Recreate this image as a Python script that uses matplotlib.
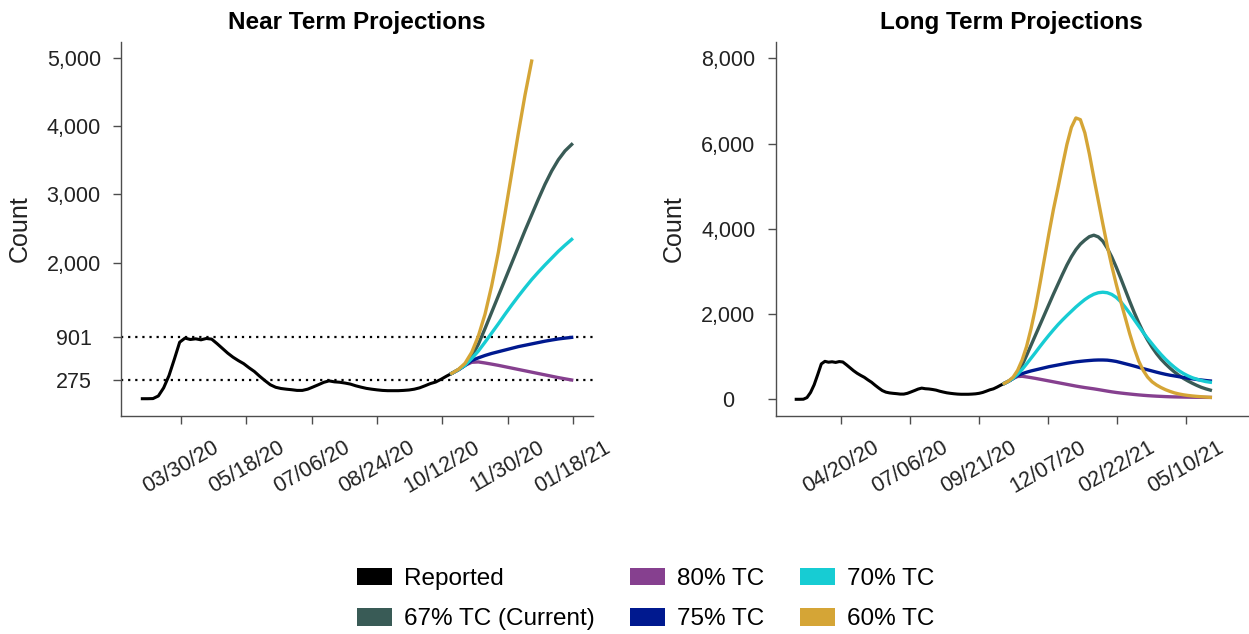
import numpy as np
import pandas as pd
import matplotlib
matplotlib.use("Agg")
import matplotlib.pyplot as plt
import matplotlib.dates as mdates
from matplotlib.patches import Patch

plt.rcParams['font.family'] = ['Liberation Sans', 'DejaVu Sans']

# reported counts, one value every 4 days from 03/01/20
reported_start = "2020-03-01"
reported = [0, 0, 2, 40, 160, 340, 580, 830, 890, 870, 880, 865, 885, 875,
            810, 740, 670, 610, 560, 515, 455, 400, 330, 265, 205, 168, 150,
            140, 132, 122, 122, 140, 172, 205, 240, 262, 248, 242, 230, 215,
            190, 170, 152, 140, 130, 122, 118, 118, 118, 122, 128, 140, 160,
            190, 222, 245, 285, 330, 372]

# projected counts, one value every 5 days from 10/19/20
proj_start = "2020-10-19"
tc80 = [372, 425, 490, 535, 540, 525, 508, 490, 470, 450,
        430, 410, 390, 370, 350, 330, 310, 292, 275, 260,
        245, 228, 210, 192, 175, 160, 147, 135, 124, 113,
        103, 94, 86, 79, 73, 68, 63, 59, 56, 54,
        52, 50, 48, 47, 46, 45, 44]
tc75 = [372, 425, 490, 560, 600, 635, 665, 690, 715, 740,
        765, 785, 805, 825, 845, 862, 878, 890, 901, 910,
        918, 922, 922, 918, 905, 888, 862, 835, 808, 780,
        750, 720, 692, 664, 636, 610, 586, 565, 548, 530,
        512, 495, 480, 465, 452, 440, 430]
tc70 = [372, 425, 490, 590, 700, 830, 965, 1100, 1240, 1375,
        1505, 1630, 1750, 1860, 1965, 2065, 2165, 2255, 2340, 2410,
        2465, 2500, 2512, 2500, 2460, 2390, 2290, 2160, 2020, 1870,
        1720, 1570, 1430, 1300, 1170, 1050, 940, 840, 750, 670,
        605, 550, 505, 470, 440, 415, 400]
tc67 = [372, 425, 490, 620, 800, 1030, 1270, 1510, 1750, 1990,
        2230, 2470, 2700, 2930, 3150, 3345, 3510, 3640, 3735, 3815,
        3850, 3810, 3710, 3545, 3340, 3100, 2840, 2570, 2300, 2040,
        1800, 1580, 1390, 1220, 1070, 940, 830, 730, 640, 560,
        490, 430, 375, 325, 280, 245, 215]
tc60 = [372, 430, 520, 680, 920, 1240, 1660, 2150, 2720, 3310,
        3900, 4460, 4960, 5480, 5980, 6380, 6600, 6560, 6250, 5760,
        5200, 4660, 4120, 3600, 3130, 2700, 2300, 1920, 1540, 1200,
        900, 680, 520, 410, 335, 275, 225, 185, 150, 125,
        105, 90, 78, 68, 60, 52, 45]

series = [("67% TC (Current)", tc67, "#395b56"),
          ("80% TC", tc80, "#86408f"),
          ("75% TC", tc75, "#00198f"),
          ("70% TC", tc70, "#17ccd3"),
          ("60% TC", tc60, "#d5a536")]

near_ticks = ["2020-03-30", "2020-05-18", "2020-07-06", "2020-08-24",
              "2020-10-12", "2020-11-30", "2021-01-18"]
long_ticks = ["2020-04-20", "2020-07-06", "2020-09-21", "2020-12-07",
              "2021-02-22", "2021-05-10"]
near_yticks = [275, 901, 2000, 3000, 4000, 5000]
long_yticks = [0, 2000, 4000, 6000, 8000]
ref_lines = [275, 901]

rep_dates = pd.date_range(reported_start, periods=len(reported), freq="4D")
proj_dates = pd.date_range(proj_start, periods=len(tc80), freq="5D")
near_end = pd.Timestamp("2021-01-18")

W, H = 1249, 634
fig = plt.figure(figsize=(W / 100, H / 100), dpi=100)
ax1 = fig.add_axes([121 / W, 1 - 416 / H, 472 / W, 374 / H])
ax2 = fig.add_axes([775.6 / W, 1 - 416 / H, 472.4 / W, 374 / H])

# near term: projections up to 01/18/21, capped at the top of the axis
ax1.plot(rep_dates, reported, color="black", lw=2.2)
keep = proj_dates <= near_end
for name, vals, col in series:
    v = np.array(vals, dtype=float)
    m = keep & (v <= 5000)
    ax1.plot(proj_dates[m], v[m], color=col, lw=2.4)
for yv in ref_lines:
    ax1.axhline(yv, color="black", lw=1.6, ls=(0, (1, 2.2)), zorder=0)

# long term: full projection window
ax2.plot(rep_dates, reported, color="black", lw=2.2)
for name, vals, col in series:
    ax2.plot(proj_dates, vals, color=col, lw=2.4)

ax1.set_xlim(pd.Timestamp("2020-02-14"), pd.Timestamp("2021-02-02"))
ax1.set_ylim(-254, 5240)
ax2.set_xlim(pd.Timestamp("2020-02-07"), pd.Timestamp("2021-07-18"))
ax2.set_ylim(-392, 8382)

for ax, xt, yt, title in [(ax1, near_ticks, near_yticks, "Near Term Projections"),
                          (ax2, long_ticks, long_yticks, "Long Term Projections")]:
    for s in ["top", "right"]:
        ax.spines[s].set_visible(False)
    for s in ["left", "bottom"]:
        ax.spines[s].set_color("#4d4d4d")
        ax.spines[s].set_linewidth(1.0)
    ax.set_xticks(pd.to_datetime(xt))
    ax.xaxis.set_major_formatter(mdates.DateFormatter("%m/%d/%y"))
    ax.set_yticks(yt)
    ax.set_yticklabels([f"{v:,}" for v in yt])
    ax.tick_params(length=6, width=1, color="#4d4d4d", labelsize=15.5,
                   labelcolor="#222222")
    ax.tick_params(axis="x", pad=9)
    ax.tick_params(axis="y", pad=28)
    for lab in ax.get_yticklabels():
        lab.set_horizontalalignment("center")
    for lab in ax.get_xticklabels():
        lab.set_rotation(30)
        lab.set_horizontalalignment("center")
    ax.set_ylabel("Count", fontsize=18, color="#222222")
    ax.yaxis.set_label_coords(-0.19, 0.5)
    ax.set_title(title, fontsize=17.5, fontweight="bold", pad=9)

handles = [Patch(facecolor="black", edgecolor="none", label="Reported")]
handles += [Patch(facecolor=col, edgecolor="none", label=name) for name, _, col in series]
fig.legend(handles=handles, ncol=3, loc="center", bbox_to_anchor=(0.517, 0.055),
           frameon=False, fontsize=17.5, handlelength=1.45, handleheight=0.72,
           handletextpad=0.5, columnspacing=1.45, labelspacing=0.75)

fig.savefig("out.png", dpi=100)
